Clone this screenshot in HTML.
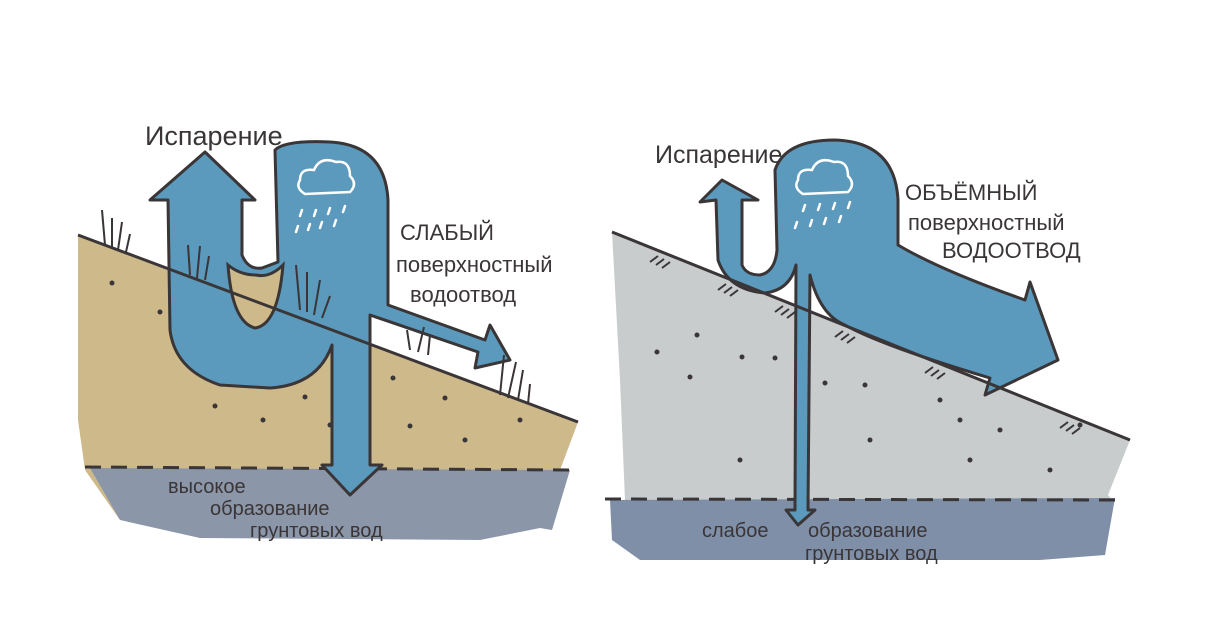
<!DOCTYPE html>
<html><head><meta charset="utf-8"><style>
html,body{margin:0;padding:0;background:#fff}
svg{display:block}
text{font-family:"Liberation Sans","DejaVu Sans",sans-serif;fill:#3a3536}
</style></head><body>
<svg width="1225" height="640" viewBox="0 0 1225 640" xmlns="http://www.w3.org/2000/svg">
<!-- LEFT PANEL -->
<path d="M78,235 L578,422 L560,470 L548,525 L470,530 L120,520 L85,470 L78,420 Z" fill="#cdb98a"/>
<path d="M90,468 L570,470 L552,530 L540,528 L480,540 L200,538 L120,520 Z" fill="#8b96a8"/>
<line x1="85" y1="467" x2="570" y2="470" stroke="#3a3536" stroke-width="3" stroke-dasharray="16,10"/>
<g fill="#3a3536">
<circle cx="112" cy="283" r="2.5"/><circle cx="160" cy="312" r="2.5"/><circle cx="215" cy="406" r="2.5"/><circle cx="263" cy="420" r="2.5"/><circle cx="305" cy="397" r="2.5"/><circle cx="330" cy="425" r="2.5"/><circle cx="393" cy="378" r="2.5"/><circle cx="410" cy="426" r="2.5"/><circle cx="445" cy="398" r="2.5"/><circle cx="465" cy="440" r="2.5"/><circle cx="520" cy="420" r="2.5"/><circle cx="247" cy="310" r="2.5"/><circle cx="265" cy="308" r="2.5"/>
</g>
<!-- left arrows -->
<path d="M205,152 L255,200 L242,200 L242,255 Q248,270 262,268 L278,262 L275,150 Q285,140 330,142 Q385,145 388,200 L388,305 L485,340 L490,325 L510,360 L475,368 L478,352 L370,315 L370,465 L382,465 L350,495 L322,465 L332,465 L332,345 Q318,385 270,388 L220,385 Q175,370 170,330 L168,200 L150,200 Z" fill="#5b9abd" stroke="#3a3536" stroke-width="3" stroke-linejoin="round"/>
<path d="M228,265 Q232,322 255,328 Q278,325 283,265 Q270,278 256,275 Q240,275 228,265 Z" fill="#cdb98a" stroke="#3a3536" stroke-width="3"/>
<line x1="78" y1="235" x2="578" y2="422" stroke="#3a3536" stroke-width="3"/>
<path d="M300,180 q0,-12 14,-10 q6,-14 22,-8 q14,-2 14,14 q8,8 0,16 l-45,2 q-10,-6 -5,-14z" fill="none" stroke="#fff" stroke-width="2.5"/>
<g stroke="#fff" stroke-width="2.5" stroke-linecap="round"><line x1="302" y1="210" x2="300" y2="216"/><line x1="316" y1="210" x2="314" y2="216"/><line x1="330" y1="208" x2="328" y2="214"/><line x1="345" y1="206" x2="343" y2="212"/><line x1="298" y1="226" x2="296" y2="232"/><line x1="310" y1="224" x2="308" y2="230"/><line x1="322" y1="222" x2="320" y2="228"/><line x1="336" y1="220" x2="334" y2="226"/></g>
<g stroke="#3a3536" stroke-width="2" fill="none">
<path d="M105,245 l-3,-35 M112,248 l0,-30 M118,250 l4,-28 M126,252 l4,-18"/>
<path d="M190,275 l-2,-30 M197,278 l3,-32 M205,280 l4,-24"/>
<path d="M300,310 l-4,-45 M307,312 l0,-40 M314,315 l6,-35 M322,318 l8,-22"/>
<path d="M410,350 l-3,-20 M418,352 l6,-25 M428,355 l2,-20"/>
<path d="M500,395 l4,-40 M508,398 l8,-36 M518,400 l5,-30 M528,404 l2,-20"/>
</g>
<text x="145" y="145" font-size="27">Испарение</text>
<text x="400" y="240" font-size="22">СЛАБЫЙ</text>
<text x="396" y="272" font-size="22">поверхностный</text>
<text x="410" y="302" font-size="22">водоотвод</text>
<text x="168" y="493" font-size="20">высокое</text>
<text x="210" y="515" font-size="20">образование</text>
<text x="250" y="537" font-size="20">грунтовых вод</text>

<!-- RIGHT PANEL -->
<path d="M612,232 L1130,440 L1108,495 L1112,500 L625,500 L620,380 Z" fill="#c8cccc"/>
<path d="M610,500 L1115,498 L1105,555 L1040,560 L640,560 L612,540 Z" fill="#7f8fa8"/>
<line x1="605" y1="499" x2="1120" y2="500" stroke="#3a3536" stroke-width="3" stroke-dasharray="16,10"/>
<g fill="#3a3536">
<circle cx="697" cy="335" r="2.5"/><circle cx="742" cy="357" r="2.5"/><circle cx="775" cy="358" r="2.5"/><circle cx="657" cy="352" r="2.5"/><circle cx="690" cy="377" r="2.5"/><circle cx="825" cy="383" r="2.5"/><circle cx="865" cy="385" r="2.5"/><circle cx="940" cy="400" r="2.5"/><circle cx="960" cy="420" r="2.5"/><circle cx="1000" cy="430" r="2.5"/><circle cx="870" cy="440" r="2.5"/><circle cx="740" cy="460" r="2.5"/><circle cx="970" cy="460" r="2.5"/><circle cx="1050" cy="470" r="2.5"/><circle cx="1080" cy="425" r="2.5"/>
</g>
<path d="M722,180 L758,200 L742,200 L742,265 Q746,275 760,275 Q775,272 777,250 L775,170 Q785,140 835,140 Q895,142 898,200 L898,245 Q940,270 1025,300 L1030,282 L1058,360 L985,395 L990,378 Q880,345 845,325 Q820,315 810,275 L808,510 L815,510 L798,525 L786,510 L795,510 L796,265 Q790,290 765,293 Q728,290 718,260 L716,200 L700,202 Z" fill="#5b9abd" stroke="#3a3536" stroke-width="3" stroke-linejoin="round"/>
<line x1="612" y1="232" x2="1130" y2="440" stroke="#3a3536" stroke-width="3"/>
<path d="M798,180 q0,-12 14,-10 q6,-14 22,-8 q14,-2 14,14 q8,8 0,16 l-45,2 q-10,-6 -5,-14z" fill="none" stroke="#fff" stroke-width="2.5"/>
<g stroke="#fff" stroke-width="2.5" stroke-linecap="round"><line x1="805" y1="205" x2="803" y2="211"/><line x1="820" y1="204" x2="818" y2="210"/><line x1="835" y1="203" x2="833" y2="209"/><line x1="850" y1="202" x2="848" y2="208"/><line x1="797" y1="222" x2="795" y2="228"/><line x1="812" y1="220" x2="810" y2="226"/><line x1="826" y1="218" x2="824" y2="224"/><line x1="841" y1="216" x2="839" y2="222"/></g>
<g stroke="#3a3536" stroke-width="2">
<path d="M650,262 l8,-6 M656,265 l8,-6 M662,268 l8,-6"/>
<path d="M718,290 l8,-6 M724,293 l8,-6 M730,296 l8,-6"/>
<path d="M775,312 l8,-6 M781,315 l8,-6 M787,318 l8,-6"/>
<path d="M835,337 l8,-6 M841,340 l8,-6 M847,343 l8,-6"/>
<path d="M925,373 l8,-6 M931,376 l8,-6 M937,379 l8,-6"/>
<path d="M1060,428 l8,-6 M1066,431 l8,-6 M1072,434 l8,-6"/>
</g>
<text x="655" y="163" font-size="25">Испарение</text>
<text x="905" y="200" font-size="22">ОБЪЁМНЫЙ</text>
<text x="908" y="230" font-size="22">поверхностный</text>
<text x="942" y="258" font-size="22">ВОДООТВОД</text>
<text x="702" y="537" font-size="20">слабое</text>
<text x="808" y="537" font-size="20">образование</text>
<text x="805" y="560" font-size="20">грунтовых вод</text>
</svg>
</body></html>
